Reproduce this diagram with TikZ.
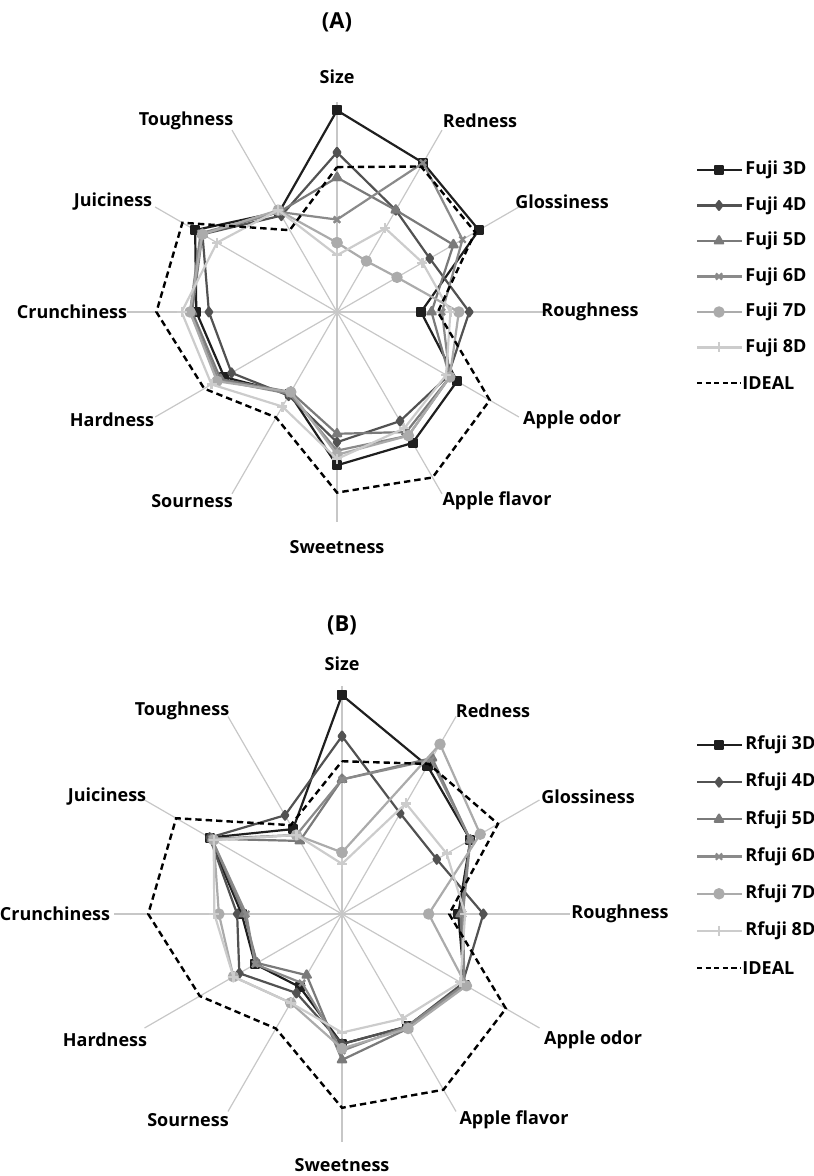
\documentclass[tikz,border=0pt]{standalone}
\usepackage{fontspec}
\setmainfont{Open Sans}
\usetikzlibrary{plotmarks}

\newcommand\spiderline[3]{\draw[#1] plot[samples at={0,...,12}] ({90-30*\x}:{{#3}[int(mod(\x,12))]*#2});}

\tikzset{
  lbl/.style={font=\bfseries\fontsize{9}{11}\selectfont, inner sep=0pt},
  ttl/.style={font=\bfseries\fontsize{11}{13}\selectfont, inner sep=0pt},
  spoke/.style={draw=black!22, line width=0.6pt},
  ser/.style={line width=1.1pt, line join=round},
  s3/.style={ser, draw=black!88, mark=square*, mark size=2pt, mark options={fill=black!88, draw=black!88}},
  s4/.style={ser, draw=black!68, mark=diamond*, mark size=2.2pt, mark options={fill=black!68, draw=black!68}},
  s5/.style={ser, draw=black!52, mark=triangle*, mark size=2.4pt, mark options={fill=black!52, draw=black!52}},
  s6/.style={ser, draw=black!46, mark=x, mark size=2.2pt, mark options={draw=black!46}},
  s7/.style={ser, draw=black!33, mark=*, mark size=2.3pt, mark options={fill=black!33, draw=black!33}},
  s8/.style={ser, draw=black!20, mark=+, mark size=2.5pt, mark options={draw=black!20}},
  ideal/.style={draw=black, line width=1.2pt, dash pattern=on 3.2pt off 2pt},
}

\begin{document}
\begin{tikzpicture}[x=0.5pt, y=0.5pt]
\useasboundingbox (0,0) rectangle (813,1176);
\node[ttl] (ta) at (337,1154) {(A)};
\node[ttl] (tb) at (342,551) {(B)};

\begin{scope}[shift={(337,864)}]
  \coordinate (ca) at (0,0);
  \foreach \a in {0,30,...,330} \draw[spoke] (ca) -- (\a:210);
  \spiderline{s3}{210}{0.96,0.82,0.78,0.40,0.66,0.72,0.73,0.45,0.62,0.67,0.78,0.55}
  \spiderline{s4}{210}{0.76,0.56,0.51,0.63,0.61,0.60,0.62,0.46,0.58,0.61,0.74,0.53}
  \spiderline{s5}{210}{0.64,0.56,0.64,0.45,0.62,0.66,0.58,0.44,0.64,0.69,0.74,0.55}
  \spiderline{s6}{210}{0.44,0.82,0.69,0.50,0.62,0.68,0.66,0.45,0.65,0.70,0.75,0.55}
  \spiderline{s7}{210}{0.33,0.28,0.33,0.58,0.62,0.68,0.68,0.44,0.66,0.70,0.74,0.56}
  \spiderline{s8}{210}{0.27,0.46,0.47,0.54,0.60,0.64,0.70,0.52,0.69,0.74,0.66,0.56}
  \spiderline{ideal}{210}{0.69,0.80,0.76,0.48,0.84,0.91,0.86,0.58,0.73,0.86,0.85,0.45}
\end{scope}

\begin{scope}[shift={(342,262)}]
  \coordinate (cb) at (0,0);
  \foreach \a in {0,30,...,330} \draw[spoke] (cb) -- (\a:228);
  \spiderline{s3}{228}{0.96,0.75,0.65,0.51,0.62,0.57,0.57,0.37,0.44,0.44,0.67,0.43}
  \spiderline{s4}{228}{0.78,0.51,0.48,0.62,0.61,0.57,0.57,0.40,0.52,0.46,0.67,0.50}
  \spiderline{s5}{228}{0.59,0.79,0.65,0.52,0.62,0.58,0.64,0.31,0.43,0.43,0.66,0.37}
  \spiderline{s6}{228}{0.59,0.78,0.65,0.53,0.62,0.57,0.60,0.35,0.44,0.42,0.66,0.40}
  \spiderline{s7}{228}{0.27,0.86,0.70,0.38,0.63,0.58,0.59,0.45,0.55,0.54,0.65,0.40}
  \spiderline{s8}{228}{0.22,0.56,0.53,0.54,0.60,0.53,0.52,0.45,0.55,0.56,0.65,0.40}
  \spiderline{ideal}{228}{0.67,0.76,0.79,0.47,0.83,0.89,0.85,0.58,0.72,0.85,0.84,0.45}
\end{scope}

\foreach \n/\x/\y/\t in {a1/337/1099/Size, a2/480/1055/Redness, a3/562/974/Glossiness,
    a4/590/864/Roughness, a5/572/756/Apple odor, a6/497/675/Apple flavor,
    a7/337/629/Sweetness, a8/192/675/Sourness, a9/112/756/Hardness,
    a10/72/864/Crunchiness, a11/113/974/Juiciness, a12/186/1055/Toughness}
  \node[lbl] (\n) at (\x,\y) {\t};
\foreach \n/\x/\y/\t in {b1/342/512/Size, b2/493/465/Redness, b3/588/379/Glossiness,
    b4/620/262/Roughness, b5/593/136/Apple odor, b6/514/56/Apple flavor,
    b7/342/11/Sweetness, b8/188/56/Sourness, b9/105/136/Hardness,
    b10/55/262/Crunchiness, b11/107/379/Juiciness, b12/182/465/Toughness}
  \node[lbl] (\n) at (\x,\y) {\t};

\foreach \s/\t [count=\i from 0] in {s3/3D, s4/4D, s5/5D, s6/6D, s7/7D, s8/8D} {
  \draw[\s, mark indices=2] plot coordinates {(697,{1006-35.5*\i}) (719,{1006-35.5*\i}) (742,{1006-35.5*\i})};
  \node[lbl, anchor=west] (la\i) at (745,{1006-35.5*\i}) {Fuji \t};
  \draw[\s, mark indices=2] plot coordinates {(697,{431-37.2*\i}) (719,{431-37.2*\i}) (742,{431-37.2*\i})};
  \node[lbl, anchor=west] (lb\i) at (745,{431-37.2*\i}) {Rfuji \t};
}
\draw[ideal, dash pattern=on 2.6pt off 1.7pt] (697,793) -- (741,793);
\node[lbl, anchor=west] (lai) at (742,793) {IDEAL};
\draw[ideal, dash pattern=on 2.6pt off 1.7pt] (697,208) -- (741,208);
\node[lbl, anchor=west] (lbi) at (742,208) {IDEAL};
\end{tikzpicture}
\end{document}
